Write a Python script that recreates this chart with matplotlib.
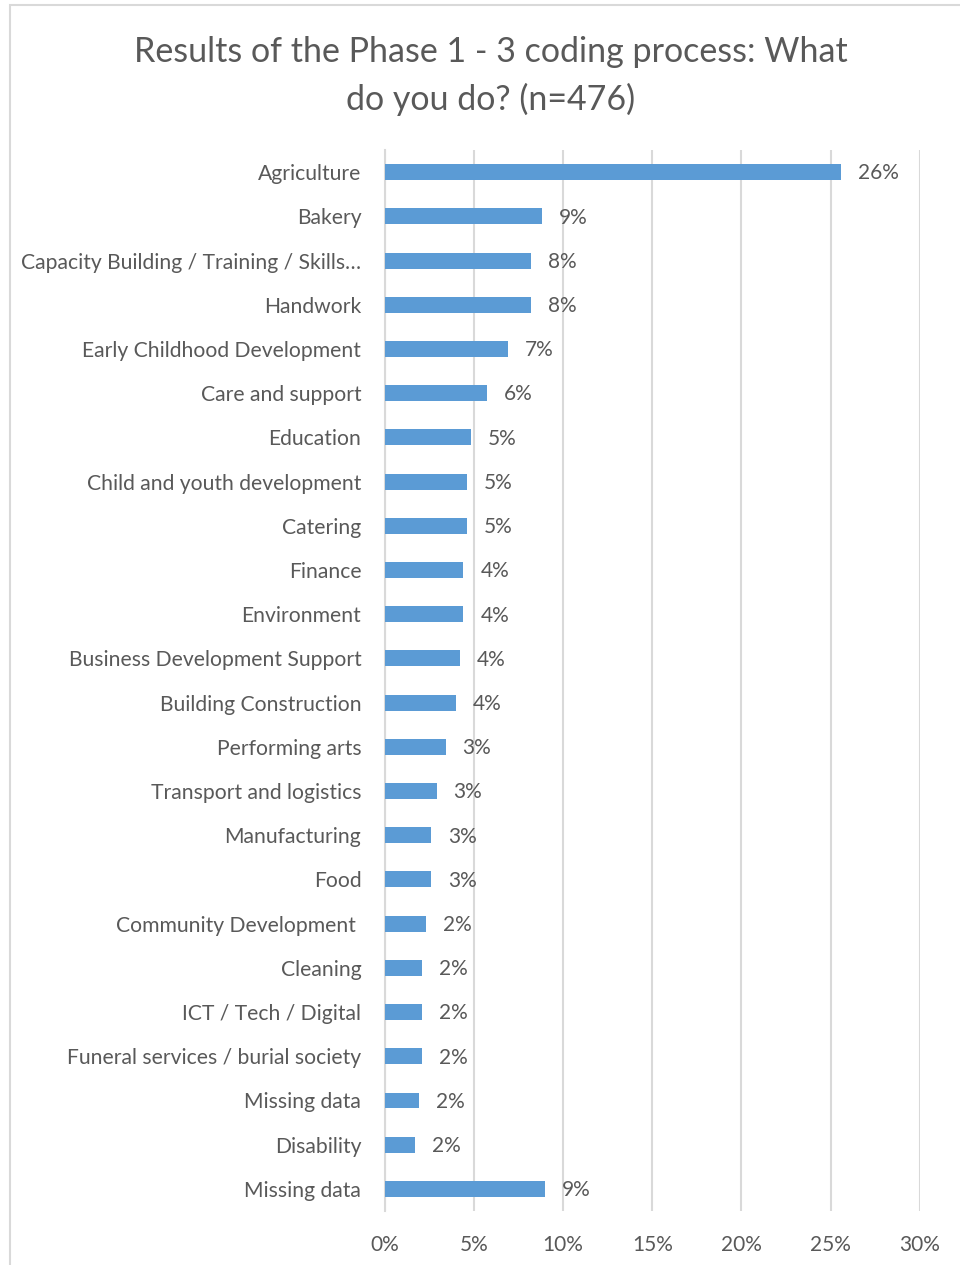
import matplotlib.pyplot as plt
from matplotlib.patches import Rectangle
from matplotlib.ticker import PercentFormatter

plt.rcParams['font.family'] = ['Lato', 'DejaVu Sans']

# categorias (de cima para baixo) e percentuais
categorias = [
    "Agriculture", "Bakery", "Capacity Building / Training / Skills…", "Handwork",
    "Early Childhood Development", "Care and support", "Education",
    "Child and youth development", "Catering", "Finance", "Environment",
    "Business Development Support", "Building Construction", "Performing arts",
    "Transport and logistics", "Manufacturing", "Food", "Community Development ",
    "Cleaning", "ICT / Tech / Digital", "Funeral services / burial society",
    "Missing data", "Disability", "Missing data",
]
valores = [
    25.6, 8.8, 8.2, 8.2, 6.9, 5.7, 4.8, 4.6, 4.6, 4.4, 4.4, 4.2,
    4.0, 3.4, 2.9, 2.6, 2.6, 2.3, 2.1, 2.1, 2.1, 1.9, 1.7, 9.0,
]
ticks_x = [0, 5, 10, 15, 20, 25, 30]

cor_barra = "#5B9BD5"
cor_texto = "#595959"
cor_grade = "#D9D9D9"

fig = plt.figure(figsize=(9.6, 12.65), dpi=100)
ax = fig.add_axes([0.401, 0.0427, 0.557, 0.8387])

pos = list(range(len(categorias)))
ax.barh(pos, valores, height=0.36, color=cor_barra, zorder=3)
for y, v in zip(pos, valores):
    ax.text(v + 0.95, y + 0.03, f"{v:.0f}%", va="center", ha="left",
            fontsize=15, color=cor_texto)

ax.set_ylim(len(categorias) - 0.5, -0.5)
ax.set_yticks(pos)
ax.set_yticklabels(categorias, fontsize=15.2, color=cor_texto)
ax.set_xlim(0, 30)
ax.set_xticks(ticks_x)
ax.xaxis.set_major_formatter(PercentFormatter(decimals=0))
ax.tick_params(axis="x", labelsize=15, labelcolor=cor_texto, length=0, pad=17)
ax.tick_params(axis="y", length=0, pad=17)

ax.grid(axis="x", color=cor_grade, linewidth=1.5, zorder=0)
for lado in ["top", "right", "bottom"]:
    ax.spines[lado].set_visible(False)
ax.spines["left"].set_color(cor_grade)
ax.spines["left"].set_linewidth(1.5)

fig.text(0.511, 0.940, "Results of the Phase 1 - 3 coding process: What\ndo you do? (n=476)",
         ha="center", va="center", fontsize=24.5, color=cor_texto, linespacing=1.55)

# moldura do gráfico
fig.patches.append(Rectangle((10 / 960, -0.1), 1.2, 1.1 - 5 / 1265,
                             transform=fig.transFigure, fill=False,
                             edgecolor=cor_grade, linewidth=1.5))

fig.savefig("out.png", dpi=100)
